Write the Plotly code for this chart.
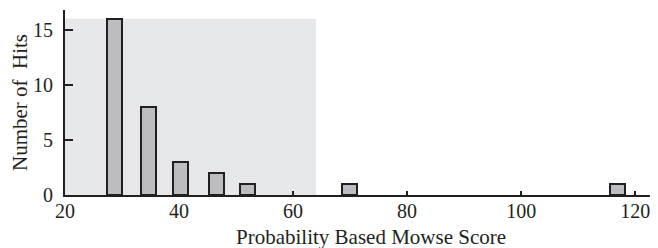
import plotly.graph_objects as go

# Data
bin_centers = [28.75, 34.7, 40.3, 46.5, 52.0, 69.9, 116.9]
hit_counts = [16, 8, 3, 2, 1, 1, 1]
x_tick_values = [20, 40, 60, 80, 100, 120]
x_minor_ticks = [60, 80, 100, 120]
y_tick_values = [0, 5, 10, 15]
shade_x = [20, 64]
shade_y = [0, 16]

INK = "#231f20"
FONT = "Liberation Serif, Times New Roman, serif"

fig = go.Figure()

fig.add_trace(go.Bar(
    x=bin_centers, y=hit_counts, width=2.6,
    marker=dict(color="#bcbdc0", line=dict(color=INK, width=2)),
    showlegend=False,
))
# invisible helper trace for the tick-only overlay axis
fig.add_trace(go.Scatter(x=[x_tick_values[0]], y=[0], xaxis="x2", mode="markers",
                         marker=dict(opacity=0), showlegend=False, hoverinfo="skip"))

fig.add_shape(type="rect", xref="x", yref="y",
              x0=shade_x[0], x1=shade_x[1], y0=shade_y[0], y1=shade_y[1],
              fillcolor="#e6e7e8", line=dict(width=0), layer="below")

fig.add_annotation(text="Probability Based Mowse Score", xref="paper", yref="paper",
                   x=0.516, y=-0.155, xanchor="center", yanchor="top",
                   showarrow=False, font=dict(size=21), borderpad=0)

xr = [20, 124.0]
fig.update_layout(
    width=650, height=240,
    margin=dict(l=57, r=0, t=2, b=53, autoexpand=False),
    paper_bgcolor="white", plot_bgcolor="white",
    font=dict(family=FONT, color=INK, size=20),
    bargap=0,
    xaxis=dict(
        range=xr, tickvals=x_tick_values, ticks="",
        showline=True, linecolor=INK, linewidth=2, showgrid=False, zeroline=False,
        tickfont=dict(size=20), ticklabelstandoff=-3, automargin=False,
    ),
    xaxis2=dict(
        range=xr, overlaying="x", anchor="y", side="bottom",
        tickvals=x_minor_ticks, ticks="inside", ticklen=4, tickwidth=1.5, tickcolor=INK,
        showticklabels=False, showline=False, showgrid=False, zeroline=False,
    ),
    yaxis=dict(
        range=[0, 16.8], tickvals=y_tick_values, ticks="inside", ticklen=8,
        tickwidth=1.5, tickcolor=INK, automargin=False,
        showline=True, linecolor=INK, linewidth=2, showgrid=False, zeroline=False,
        tickfont=dict(size=20), ticklabelstandoff=6,
        title=dict(text="Number of\u00a0 Hits", font=dict(size=21), standoff=9),
    ),
)

fig.write_html("out.html")
